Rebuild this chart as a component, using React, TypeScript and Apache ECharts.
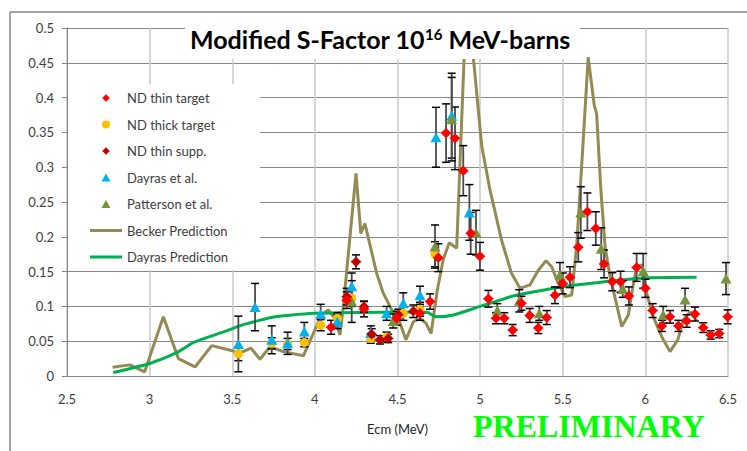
import React, { useEffect, useRef } from 'react';
import * as echarts from 'echarts';

// ---- data (x = Ecm MeV, y = S-factor, e = half error) ----
const thinTarget: number[][] = [
  [4.098, 0.070, 0.010], [4.193, 0.109, 0.012], [4.297, 0.096, 0.011], [4.495, 0.083, 0.010],
  [4.636, 0.090, 0.010], [4.697, 0.107, 0.011], [4.747, 0.170, 0.020], [4.794, 0.349, 0.042],
  [4.848, 0.3415, 0.045], [4.898, 0.295, 0.036], [4.943, 0.205, 0.030], [4.999, 0.172, 0.020],
  [5.05, 0.111, 0.012], [5.096, 0.083, 0.008], [5.146, 0.083, 0.008], [5.197, 0.066, 0.008],
  [5.25, 0.1045, 0.010], [5.30, 0.087, 0.010], [5.352, 0.069, 0.008], [5.403, 0.084, 0.010],
  [5.453, 0.116, 0.012], [5.50, 0.133, 0.015], [5.544, 0.142, 0.015], [5.594, 0.185, 0.021],
  [5.649, 0.236, 0.027], [5.70, 0.212, 0.024], [5.75, 0.161, 0.020], [5.80, 0.1355, 0.013],
  [5.85, 0.1355, 0.015], [5.90, 0.115, 0.013], [5.947, 0.156, 0.020], [6.0, 0.126, 0.013],
  [6.044, 0.094, 0.010], [6.10, 0.072, 0.008], [6.149, 0.085, 0.009], [6.20, 0.072, 0.008],
  [6.25, 0.079, 0.009], [6.30, 0.089, 0.010], [6.35, 0.0695, 0.007], [6.395, 0.059, 0.006],
  [6.447, 0.061, 0.006], [6.498, 0.085, 0.010],
];
const thickTarget: number[][] = [
  [3.537, 0.032, 0.010], [3.739, 0.047, 0.008], [3.835, 0.046, 0.008], [3.936, 0.048, 0.006],
  [4.035, 0.073, 0.008], [4.136, 0.083, 0.008], [4.223, 0.112, 0.012], [4.338, 0.054, 0.007],
  [4.434, 0.056, 0.007], [4.535, 0.090, 0.010], [4.636, 0.096, 0.010], [4.727, 0.175, 0.018],
];
const thinSupp: number[][] = [
  [4.193, 0.114, 0.012], [4.249, 0.164, 0.010], [4.297, 0.0996, 0.008], [4.344, 0.060, 0.008],
  [4.394, 0.052, 0.006], [4.444, 0.054, 0.006], [4.505, 0.088, 0.008], [4.596, 0.093, 0.009],
];
const dayras: number[][] = [
  [3.537, 0.046, 0.040], [3.638, 0.099, 0.034], [3.739, 0.052, 0.020], [3.835, 0.047, 0.016],
  [3.936, 0.064, 0.013], [4.035, 0.089, 0.014], [4.136, 0.078, 0.010], [4.223, 0.129, 0.019],
  [4.338, 0.062, 0.010], [4.434, 0.090, 0.010], [4.535, 0.1045, 0.015], [4.636, 0.116, 0.013],
  [4.733, 0.343, 0.043], [4.828, 0.374, 0.061], [4.935, 0.235, 0.040],
];
const patterson: number[][] = [
  [4.223, 0.107, 0.030], [4.474, 0.079, 0.010], [4.727, 0.186, 0.031], [4.828, 0.369, 0.060],
  [4.975, 0.206, 0.032], [5.104, 0.094, 0.010], [5.237, 0.108, 0.016], [5.358, 0.090, 0.010],
  [5.483, 0.145, 0.018], [5.609, 0.235, 0.037], [5.733, 0.183, 0.030], [5.863, 0.125, 0.012],
  [5.987, 0.151, 0.025], [6.108, 0.088, 0.012], [6.24, 0.110, 0.016], [6.488, 0.140, 0.023],
];
const becker: number[][] = [
  [2.776, 0.0125], [2.88, 0.016], [2.97, 0.006], [3.083, 0.085], [3.174, 0.025], [3.275, 0.013],
  [3.376, 0.0436], [3.506, 0.036], [3.537, 0.032], [3.613, 0.040], [3.668, 0.024], [3.728, 0.042],
  [3.809, 0.035], [3.93, 0.029], [4.041, 0.088], [4.081, 0.095], [4.12, 0.083], [4.152, 0.059],
  [4.172, 0.0996], [4.249, 0.291], [4.278, 0.205], [4.303, 0.219], [4.374, 0.1475], [4.414, 0.119],
  [4.465, 0.095], [4.515, 0.076], [4.551, 0.052], [4.596, 0.078], [4.636, 0.083], [4.672, 0.076],
  [4.703, 0.061], [4.741, 0.1236], [4.777, 0.1677], [4.813, 0.1915], [4.858, 0.1835], [4.93, 0.62],
  [4.96, 0.455], [5.01, 0.33], [5.06, 0.267], [5.13, 0.195], [5.19, 0.1475], [5.241, 0.126],
  [5.302, 0.131], [5.352, 0.152], [5.399, 0.1657], [5.433, 0.157], [5.473, 0.133], [5.514, 0.114],
  [5.554, 0.1164], [5.584, 0.186], [5.624, 0.339], [5.654, 0.458], [5.69, 0.39], [5.705, 0.377],
  [5.73, 0.27], [5.756, 0.186], [5.786, 0.143], [5.82, 0.109], [5.857, 0.071], [5.897, 0.0876],
  [5.921, 0.1236], [5.948, 0.157], [5.978, 0.1595], [6.008, 0.119], [6.048, 0.085], [6.099, 0.0565],
  [6.149, 0.035], [6.196, 0.052], [6.23, 0.0805], [6.27, 0.092], [6.31, 0.08],
];
const dayrasPred: number[][] = [
  [2.78, 0.005], [3.0, 0.018], [3.164, 0.0335], [3.264, 0.048], [3.456, 0.064], [3.557, 0.073],
  [3.658, 0.0795], [3.759, 0.085], [3.86, 0.0876], [4.0, 0.09], [4.142, 0.091], [4.4, 0.0915],
  [4.676, 0.0915], [4.737, 0.085], [4.838, 0.0876], [5.0, 0.1], [5.12, 0.109], [5.2, 0.115],
  [5.35, 0.122], [5.49, 0.128], [5.7, 0.134], [6.0, 0.141], [6.31, 0.142],
];

const seriesNames = ['ND thin target', 'ND thick target', 'ND thin supp.', 'Dayras et al.', 'Patterson et al.', 'Becker Prediction', 'Dayras Prediction'];

const STAR = 'path://M0,-5.5 L1.5,-3.6 L2.7,-2.7 L3.6,-1.5 L5.5,0 L3.6,1.5 L2.7,2.7 L1.5,3.6 L0,5.5 L-1.5,3.6 L-2.7,2.7 L-3.6,1.5 L-5.5,0 L-3.6,-1.5 L-2.7,-2.7 L-1.5,-3.6 Z';
const TRI = 'path://M5,0 L10,9 L0,9 Z';
const CIRC = 'path://M0,-5 A5,5 0 1,1 0,5 A5,5 0 1,1 0,-5 Z';
const BAR = 'path://M0,0 L32,0 L32,3 L0,3 Z';

export default function App() {
  const ref = useRef<HTMLDivElement>(null);
  useEffect(() => {
    if (!ref.current) return;
    const chart = echarts.init(ref.current, null, { renderer: 'svg' });
    const allErr = [...thinTarget, ...thickTarget, ...thinSupp, ...dayras, ...patterson].map(d => [d[0], d[1] - d[2], d[1] + d[2]]);
    const scatter = (name: string, data: number[][], symbol: string, size: number | number[], color: string) => ({
      name, type: 'scatter', data: data.map(d => [d[0], d[1]]), symbol, symbolSize: size, z: 4,
      itemStyle: { color, opacity: 1 },
    });
    const option: any = {
      animation: false,
      backgroundColor: '#ffffff',
      textStyle: { fontFamily: 'Lato' },
      title: {
        text: '{a|Modified S-Factor 10}{s|16}{a| MeV-barns}',
        left: 190, top: 26, z: 30, padding: 0,
        textStyle: {
          rich: {
            a: { fontFamily: 'Lato', fontWeight: 'bold', fontSize: 25, color: '#000' },
            s: { fontFamily: 'Lato', fontWeight: 'bold', fontSize: 15, color: '#000', verticalAlign: 'top' },
          },
        },
      },
      legend: {
        orient: 'vertical', left: 90, top: 91, itemWidth: 32, itemHeight: 8, itemGap: 12.5, z: 30,
        padding: 0,
        textStyle: { fontFamily: 'Lato', fontSize: 13, color: '#404040', lineHeight: 14 },
        data: seriesNames.map(n => n.indexOf('Prediction') >= 0 ? { name: n, icon: BAR } : { name: n }),
      },
      grid: { left: 67, right: 19, top: 28, bottom: 75, containLabel: false },
      xAxis: {
        type: 'value', min: 2.5, max: 6.5, interval: 0.5,
        name: 'Ecm (MeV)', nameLocation: 'middle', nameGap: 46,
        nameTextStyle: { fontFamily: 'Lato', fontSize: 13, color: '#262626' },
        axisLine: { show: true, onZero: false, lineStyle: { color: '#868686', width: 1 } },
        axisTick: { show: false },
        axisLabel: { fontFamily: 'Lato', fontSize: 13, color: '#404040', margin: 16 },
        splitLine: { show: true, lineStyle: { color: '#c8c8c8', width: 1.5 } },
      },
      yAxis: {
        type: 'value', min: 0, max: 0.5, interval: 0.05,
        axisLine: { show: true, lineStyle: { color: '#868686', width: 1 } },
        axisTick: { show: true, length: 5, lineStyle: { color: '#868686' } },
        axisLabel: { fontFamily: 'Lato', fontSize: 13, color: '#404040', margin: 13 },
        splitLine: { show: true, lineStyle: { color: '#898989', width: 1 } },
      },
      series: [
        {
          name: 'Becker Prediction', type: 'line', data: becker, symbol: 'none', z: 2,
          lineStyle: { color: '#948A54', width: 3 }, itemStyle: { color: '#948A54' },
        },
        {
          name: 'Dayras Prediction', type: 'line', data: dayrasPred, symbol: 'none', z: 2, smooth: 0.2,
          lineStyle: { color: '#00B050', width: 3 }, itemStyle: { color: '#00B050' },
        },
        {
          name: 'errors', type: 'custom', data: allErr, z: 3,
          encode: { x: 0, y: [1, 2] },
          renderItem: (params: any, api: any) => {
            const x = api.value(0);
            const lo = api.coord([x, api.value(1)]);
            const hi = api.coord([x, api.value(2)]);
            const hw = 4;
            return {
              type: 'group',
              children: [
                { type: 'line', shape: { x1: hi[0], y1: hi[1], x2: lo[0], y2: lo[1] }, style: { stroke: '#4a4a4a', lineWidth: 1.8 } },
                { type: 'line', shape: { x1: hi[0] - hw, y1: hi[1], x2: hi[0] + hw, y2: hi[1] }, style: { stroke: '#000', lineWidth: 1.5 } },
                { type: 'line', shape: { x1: lo[0] - hw, y1: lo[1], x2: lo[0] + hw, y2: lo[1] }, style: { stroke: '#000', lineWidth: 1.5 } },
              ],
            };
          },
        },
        scatter('ND thick target', thickTarget, CIRC, 9, '#FFC000'),
        scatter('Dayras et al.', dayras, TRI, [11, 10], '#00B0F0'),
        scatter('Patterson et al.', patterson, TRI, [11, 10], '#77933C'),
        scatter('ND thin supp.', thinSupp, STAR, 11, '#C00000'),
        scatter('ND thin target', thinTarget, STAR, 11, '#FF0000'),
      ],
      graphic: [
        { type: 'line', z: 5, shape: { x1: 10, y1: 12, x2: 747, y2: 12 }, style: { stroke: '#868686', lineWidth: 1.5 } },
        { type: 'line', z: 5, shape: { x1: 10, y1: 12, x2: 10, y2: 451 }, style: { stroke: '#868686', lineWidth: 1.5 } },
        { type: 'rect', z: 10, shape: { x: 185, y: 13, width: 395, height: 46 }, style: { fill: '#ffffff' } },
        { type: 'rect', z: 10, shape: { x: 68, y: 84, width: 192, height: 186 }, style: { fill: '#ffffff' } },
        {
          type: 'text', z: 30, left: 473, top: 410,
          style: { text: 'PRELIMINARY', fill: '#00FF00', font: 'bold 32px "Liberation Serif", serif' },
        },
      ],
    };
    chart.setOption(option);
    return () => chart.dispose();
  }, []);
  return <div ref={ref} style={{ position: 'absolute', left: 0, top: 0, width: 747, height: 451 }} />;
}
